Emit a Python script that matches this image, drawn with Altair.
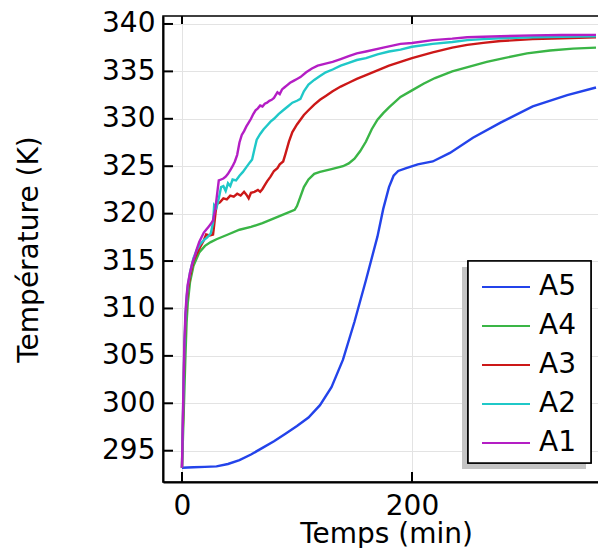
import altair as alt
import pandas as pd

# ---- data ----
A5_t = [0, 10, 20, 30, 40, 50, 60, 70, 80, 90, 100, 110, 120, 130, 140, 150, 160, 170, 175, 180, 184, 188, 195, 205, 218, 233, 253, 277, 305, 335, 360]
A5_T = [293.2, 293.25, 293.3, 293.35, 293.6, 294.0, 294.6, 295.3, 296.0, 296.8, 297.6, 298.5, 299.8, 301.7, 304.6, 308.6, 313.0, 317.6, 320.5, 322.8, 324.0, 324.5, 324.8, 325.2, 325.5, 326.4, 328.0, 329.6, 331.3, 332.5, 333.3]

A4_t = [0, 1, 2, 3, 4, 5, 7, 10, 15, 20, 25, 30, 40, 50, 60, 70, 80, 90, 98, 100, 103, 106, 110, 115, 120, 130, 140, 145, 150, 155, 160, 165, 170, 175, 180, 190, 200, 210, 220, 235, 250, 265, 280, 300, 320, 340, 360]
A4_T = [293.2, 297.0, 301.0, 305.0, 308.5, 310.5, 312.8, 314.5, 315.9, 316.6, 317.0, 317.3, 317.8, 318.3, 318.6, 319.0, 319.5, 320.0, 320.4, 320.8, 321.8, 322.8, 323.6, 324.2, 324.4, 324.7, 325.0, 325.3, 325.8, 326.6, 327.6, 328.9, 329.9, 330.6, 331.2, 332.3, 333.0, 333.7, 334.3, 335.0, 335.5, 336.0, 336.4, 336.9, 337.2, 337.4, 337.5]

A3_t = [0, 1, 2, 3, 4, 5, 7, 10, 13, 16, 19, 21, 24, 27, 28, 30, 33, 36, 39, 42, 45, 48, 51, 54, 56, 58, 60, 63, 66, 68, 70, 72, 74, 77, 80, 83, 85, 88, 90, 93, 96, 100, 103, 106, 110, 115, 120, 125, 131, 138, 145, 152, 160, 170, 180, 190, 200, 218, 235, 248, 262, 277, 305, 330, 360]
A3_T = [293.2, 299.0, 305.0, 308.5, 310.5, 311.8, 313.4, 315.0, 315.8, 316.5, 317.2, 317.8, 317.7, 317.8, 318.8, 321.0, 321.2, 321.6, 321.5, 321.9, 321.8, 322.1, 321.9, 322.3, 322.0, 321.6, 322.2, 322.3, 322.5, 322.3, 322.6, 323.0, 323.4, 323.9, 324.5, 324.8, 325.2, 325.5, 326.3, 327.6, 328.6, 329.4, 329.9, 330.4, 330.9, 331.5, 332.0, 332.4, 332.9, 333.4, 333.8, 334.2, 334.6, 335.1, 335.6, 336.0, 336.4, 337.0, 337.5, 337.8, 338.0, 338.2, 338.4, 338.5, 338.6]

A2_t = [0, 1, 2, 3, 4, 5, 7, 10, 13, 16, 19, 22, 25, 27, 28, 30, 32, 34, 36, 38, 40, 42, 44, 47, 50, 53, 56, 59, 61, 63, 65, 68, 71, 74, 77, 80, 84, 88, 92, 96, 100, 103, 106, 110, 115, 120, 125, 131, 138, 145, 152, 160, 170, 180, 190, 200, 218, 235, 248, 262, 277, 305, 330, 360]
A2_T = [293.2, 299.5, 305.5, 309.0, 311.0, 312.3, 313.8, 315.3, 316.2, 316.8, 317.2, 317.5, 317.9, 319.0, 320.9, 320.6, 321.6, 322.8, 322.9, 322.4, 323.2, 322.9, 323.6, 323.5, 324.0, 324.4, 324.9, 325.4, 325.7, 326.8, 327.8, 328.4, 328.9, 329.3, 329.7, 330.0, 330.5, 330.9, 331.3, 331.7, 331.9, 332.1, 332.9, 333.6, 334.1, 334.5, 334.9, 335.2, 335.6, 335.9, 336.2, 336.4, 336.8, 337.1, 337.3, 337.6, 337.9, 338.1, 338.3, 338.4, 338.5, 338.6, 338.65, 338.7]

A1_t = [0, 1, 2, 3, 4, 5, 7, 9, 11, 13, 15, 17, 19, 21, 23, 25, 27, 29, 31, 32, 34, 36, 38, 40, 42, 44, 46, 48, 50, 52, 54, 56, 58, 60, 62, 64, 66, 68, 70, 72, 74, 76, 78, 80, 83, 85, 87, 89, 91, 94, 97, 100, 103, 108, 113, 118, 124, 131, 138, 145, 152, 160, 175, 190, 200, 218, 235, 248, 262, 277, 305, 330, 360]
A1_T = [293.2, 300.0, 306.0, 309.5, 311.3, 312.5, 313.8, 314.8, 315.5, 316.3, 317.0, 317.5, 318.0, 318.3, 318.6, 318.9, 319.3, 320.5, 322.5, 323.5, 323.6, 323.7, 323.9, 324.2, 324.6, 325.0, 325.5, 326.2, 327.5, 328.3, 328.7, 329.2, 329.6, 330.0, 330.5, 330.9, 331.1, 331.4, 331.3, 331.6, 331.7, 331.9, 332.0, 332.2, 332.8, 332.6, 333.1, 333.3, 333.5, 333.8, 334.0, 334.2, 334.4, 334.9, 335.3, 335.6, 335.8, 336.0, 336.3, 336.6, 336.9, 337.1, 337.5, 337.9, 338.0, 338.3, 338.45, 338.6, 338.65, 338.7, 338.8, 338.83, 338.85]

series_names = ["A5", "A4", "A3", "A2", "A1"]
series_colors = ["#2343ea", "#3ab546", "#cc1818", "#1fc8c8", "#b41ec4"]

x_ticks = [0, 200]
y_ticks = [295, 300, 305, 310, 315, 320, 325, 330, 335, 340]

rows = []
for name, ts, Ts in [("A5", A5_t, A5_T), ("A4", A4_t, A4_T), ("A3", A3_t, A3_T),
                     ("A2", A2_t, A2_T), ("A1", A1_t, A1_T)]:
    for t, T in zip(ts, Ts):
        rows.append({"t": t, "T": T, "serie": name})
df = pd.DataFrame(rows)

W, H = 446, 466
FONT = "DejaVu Sans"
xscale = alt.Scale(domain=[-16.5, 371.3], nice=False, zero=False)
yscale = alt.Scale(domain=[291.7, 340.84], nice=False, zero=False)

xaxis = alt.Axis(values=x_ticks, title="Temps (min)", grid=True, ticks=False,
                 labelPadding=10, titlePadding=0)
yaxis = alt.Axis(values=y_ticks, title="Température (K)", grid=True, ticks=False,
                 labelPadding=8, titlePadding=58)

lines = alt.Chart(df).mark_line(strokeWidth=2.4, clip=True).encode(
    x=alt.X("t:Q", scale=xscale, axis=xaxis),
    y=alt.Y("T:Q", scale=yscale, axis=yaxis),
    color=alt.Color("serie:N", scale=alt.Scale(domain=series_names, range=series_colors),
                    legend=alt.Legend(title=None, orient="none", legendX=305, legendY=240,
                                      symbolType="stroke", symbolSize=2304, symbolStrokeWidth=2,
                                      symbolOffset=7,
                                      labelFontSize=28, labelFont=FONT, labelColor="black",
                                      rowPadding=-2.25, padding=6, labelOffset=8)),
    order=alt.Order("t:Q"),
)

xt = pd.DataFrame({"v": x_ticks})
yt = pd.DataFrame({"v": y_ticks})

bottom_ticks = alt.Chart(xt).mark_rule(color="black", strokeWidth=2).encode(
    x=alt.X("v:Q", scale=xscale, axis=xaxis), y=alt.value(H), y2=alt.value(H - 10))
top_ticks = alt.Chart(xt).mark_rule(color="black", strokeWidth=2).encode(
    x=alt.X("v:Q", scale=xscale, axis=xaxis), y=alt.value(0), y2=alt.value(8))
left_ticks = alt.Chart(yt).mark_rule(color="black", strokeWidth=2).encode(
    y=alt.Y("v:Q", scale=yscale, axis=yaxis), x=alt.value(0), x2=alt.value(10))
right_ticks = alt.Chart(yt).mark_rule(color="black", strokeWidth=2).encode(
    y=alt.Y("v:Q", scale=yscale, axis=yaxis), x=alt.value(W - 8), x2=alt.value(W))

# legend frame and its drop shadow (decoration, fixed pixel placement)
shadow = alt.Chart(xt).mark_rect(color="#c4c4c4").encode(
    x=alt.value(299), x2=alt.value(423), y=alt.value(251), y2=alt.value(453))
legend_box = alt.Chart(xt).mark_rect(fill="white", stroke="black", strokeWidth=1.6).encode(
    x=alt.value(305), x2=alt.value(428), y=alt.value(245), y2=alt.value(447))

chart = alt.layer(lines, bottom_ticks, top_ticks, left_ticks, right_ticks, shadow, legend_box).properties(
    width=W, height=H,
    autosize=alt.AutoSizeParams(type="none"),
    padding={"left": 155, "top": 8, "right": -11, "bottom": 66},
).configure_view(stroke="black", strokeWidth=1.5).configure_axis(
    labelFont=FONT, titleFont=FONT, labelFontSize=28, titleFontSize=28,
    titleFontWeight="normal", labelColor="black", titleColor="black",
    domainColor="black", domainWidth=2, gridColor="#e3e3e3", gridWidth=1,
)

chart.save("out.html", embed_options={"renderer": "svg", "actions": False})
